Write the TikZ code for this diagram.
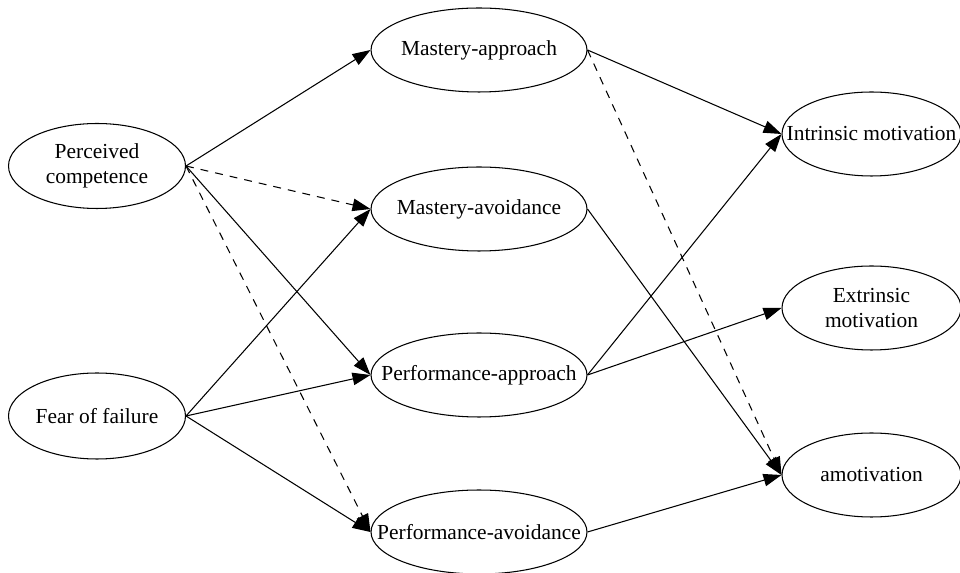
\documentclass[tikz,border=0pt]{standalone}
\usepackage{fontspec}
\setmainfont{Liberation Serif}
\usetikzlibrary{shapes.geometric,arrows.meta}

\begin{document}
\begin{tikzpicture}[x=0.02cm, y=-0.02cm,
  construct/.style={draw, ellipse, line width=0.6pt, inner sep=0pt, minimum height=1.68cm},
  tag/.style={align=center, inner sep=0pt, font=\fontsize{12.2}{14.6}\selectfont},
  link/.style={line width=0.6pt, -{Triangle[length=3.6mm, width=2.5mm]}},
  dlink/.style={link, dash pattern=on 4.5pt off 4pt}]

\useasboundingbox (0,0) rectangle (960,573);

\node[construct, minimum width=3.54cm, minimum height=1.7cm, label={[tag]center:Perceived\\competence}] (pc) at (97,166) {};
\node[construct, minimum width=3.54cm, minimum height=1.72cm, label={[tag]center:Fear of failure}] (ff) at (97,416) {};

\node[construct, minimum width=4.32cm, label={[tag]center:Mastery-approach}] (map) at (479,50) {};
\node[construct, minimum width=4.32cm, label={[tag]center:Mastery-avoidance}] (mav) at (479,209) {};
\node[construct, minimum width=4.32cm, label={[tag]center:Performance-approach}] (pap) at (479,375) {};
\node[construct, minimum width=4.32cm, label={[tag]center:Performance-avoidance}] (pav) at (479,532) {};

\node[construct, minimum width=3.58cm, label={[tag]center:Intrinsic motivation}] (im) at (871.5,134) {};
\node[construct, minimum width=3.58cm, label={[tag]center:Extrinsic\\motivation}] (em) at (871.5,308) {};
\node[construct, minimum width=3.58cm, label={[tag]center:amotivation}] (am) at (871.5,475) {};

\draw[link] (pc.east) -- (map.west);
\draw[dlink] (pc.east) -- (mav.west);
\draw[link] (pc.east) -- (pap.west);
\draw[dlink] (pc.east) -- (pav.west);

\draw[link] (ff.east) -- (mav.west);
\draw[link] (ff.east) -- (pap.west);
\draw[link] (ff.east) -- (pav.west);

\draw[link] (map.east) -- (im.west);
\draw[dlink] (map.east) -- (am.west);
\draw[link] (mav.east) -- (am.west);
\draw[link] (pap.east) -- (im.west);
\draw[link] (pap.east) -- (em.west);
\draw[link] (pav.east) -- (am.west);

\end{tikzpicture}
\end{document}
